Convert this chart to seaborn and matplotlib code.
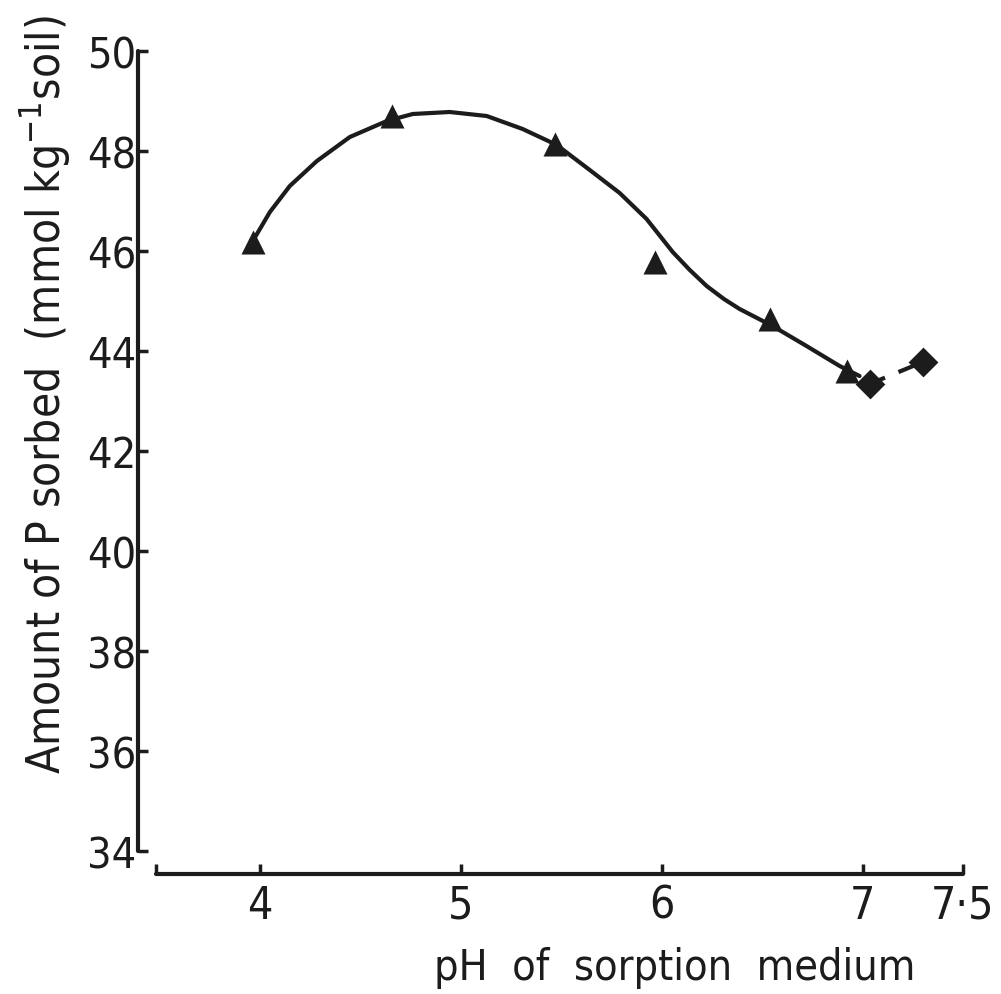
import matplotlib
matplotlib.use("Agg")
import matplotlib.pyplot as plt
import seaborn as sns
import pandas as pd

# Measured points (triangles)
ph_tri = [3.965, 4.66, 5.47, 5.965, 6.537, 6.925]
p_tri = [46.18, 48.70, 48.14, 45.78, 44.64, 43.60]

# Measured points (diamonds)
ph_dia = [7.035, 7.30]
p_dia = [43.34, 43.78]

# Hand-drawn fitted curve
curve_ph = [3.965, 4.05, 4.149, 4.284, 4.448, 4.632, 4.761, 4.945, 5.129, 5.308,
            5.478, 5.642, 5.791, 5.925, 6.055, 6.14, 6.224, 6.31, 6.388, 6.552,
            6.721, 6.886, 6.985]
curve_p = [46.20, 46.78, 47.30, 47.80, 48.28, 48.60, 48.74, 48.78, 48.70, 48.44,
           48.12, 47.62, 47.16, 46.64, 45.98, 45.62, 45.30, 45.04, 44.84, 44.50,
           44.10, 43.70, 43.50]

x_ticks = [3.483, 4, 5, 6, 7, 7.5]
x_tick_labels = ["", "4", "5", "6", "7", "7·5"]
y_ticks = [34, 36, 38, 40, 42, 44, 46, 48, 50]

sns.set_style("ticks")
plt.rcParams["font.family"] = ["DejaVu Sans"]
plt.rcParams["font.stretch"] = "condensed"
plt.rcParams["mathtext.fontset"] = "custom"
plt.rcParams["mathtext.rm"] = "DejaVu Sans:stretch=condensed"

ink = "#1c1c1c"
W, H = 1001, 995
fig = plt.figure(figsize=(W / 100, H / 100), dpi=100)
ax = fig.add_axes([156 / W, 1 - 852 / H, (963 - 156) / W, (852 - 52) / H])

df_curve = pd.DataFrame({"ph": curve_ph, "p": curve_p})
df_tri = pd.DataFrame({"ph": ph_tri, "p": p_tri})
df_dia = pd.DataFrame({"ph": ph_dia, "p": p_dia})

sns.lineplot(data=df_curve, x="ph", y="p", ax=ax, color=ink, lw=3.0,
             sort=False, estimator=None)
sns.lineplot(data=df_dia, x="ph", y="p", ax=ax, color=ink, lw=3.0,
             sort=False, estimator=None, dashes=False, linestyle=(0, (4, 3.5)))
sns.scatterplot(data=df_tri, x="ph", y="p", ax=ax, marker="^", s=300,
                color=ink, edgecolor=ink, linewidth=0, zorder=5)
sns.scatterplot(data=df_dia, x="ph", y="p", ax=ax, marker="D", s=230,
                color=ink, edgecolor=ink, linewidth=0, zorder=5)

ax.set_xlim(3.483, 7.4975)
ax.set_ylim(34, 50)
ax.set_xticks(x_ticks)
ax.set_xticklabels(x_tick_labels)
ax.set_yticks(y_ticks)
ax.set_yticklabels([str(v) for v in y_ticks])

for s in ["top", "right"]:
    ax.spines[s].set_visible(False)
ax.spines["left"].set_position(("outward", 13))
ax.spines["bottom"].set_position(("outward", 16.5))
for s in ["left", "bottom"]:
    ax.spines[s].set_linewidth(3.0)
    ax.spines[s].set_color(ink)
    ax.spines[s].set_capstyle("round")

ax.tick_params(axis="y", direction="in", length=7, width=2.5, color=ink,
               labelsize=31, pad=1, labelcolor=ink)
ax.tick_params(axis="x", direction="in", length=7, width=2.5, color=ink,
               labelsize=32, pad=7, labelcolor=ink)

ax.set_xlabel("pH  of  sorption  medium", fontsize=31, color=ink)
ax.set_ylabel(r"Amount of P sorbed  (mmol kg$^{\mathregular{-1}}$soil)", fontsize=33, color=ink)
ax.xaxis.label.set_va("center")
ax.yaxis.label.set_va("center")
ax.xaxis.set_label_coords((675 - 156) / 807, -(968 - 852) / 800)
ax.yaxis.set_label_coords((45 - 156) / 807, (852 - 395) / 800)

fig.savefig("out.png", dpi=100, facecolor="white")
